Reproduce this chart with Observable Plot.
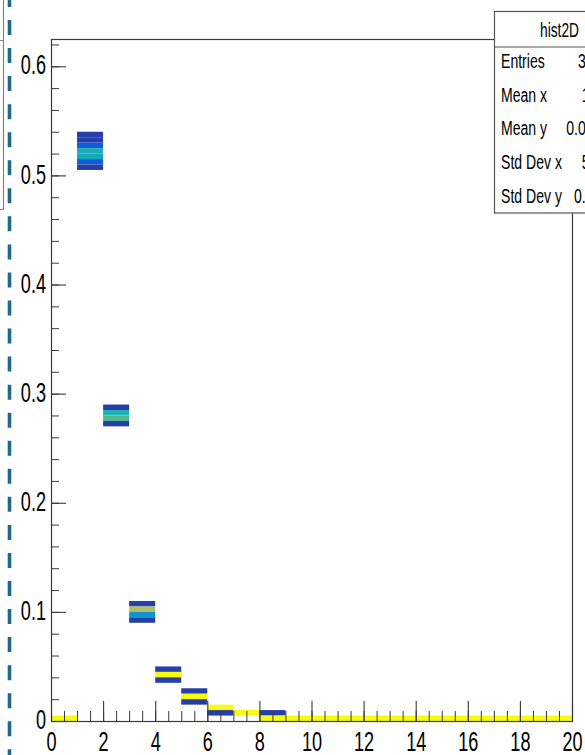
<!DOCTYPE html>
<html>
<head>
<meta charset="utf-8">
<script src="https://cdn.jsdelivr.net/npm/d3@7"></script>
<script src="https://cdn.jsdelivr.net/npm/@observablehq/plot@0.6"></script>
<style>
  html, body { margin: 0; padding: 0; background: #fff; }
  #chart { width: 585px; height: 755px; overflow: hidden; }
</style>
</head>
<body>
<div id="chart"></div>
<script>
// hist2D occupied cells: lower bin edges and relative cell content (0..1 of max)
const cellX = [0,
  1, 1, 1, 1, 1, 1, 1,
  2, 2, 2, 2,
  3, 3, 3, 3,
  4, 4, 4,
  5, 5, 5,
  6, 6,
  7,
  8, 8,
  9, 10, 11, 12, 13, 14, 15, 16, 17, 18, 19];
const cellY = [0,
  0.535, 0.53, 0.525, 0.52, 0.515, 0.51, 0.505,
  0.285, 0.28, 0.275, 0.27,
  0.105, 0.10, 0.095, 0.09,
  0.045, 0.04, 0.035,
  0.025, 0.02, 0.015,
  0.01, 0.005,
  0.005,
  0.005, 0,
  0, 0, 0, 0, 0, 0, 0, 0, 0, 0, 0];
const cellZ = [1,
  0.05, 0.05, 0.13, 0.44, 0.41, 0.13, 0.05,
  0.05, 0.45, 0.55, 0.05,
  0.05, 0.70, 0.32, 0.05,
  0.05, 1, 0.05,
  0.05, 1, 0.05,
  1, 0.05,
  1,
  0.05, 1,
  1, 1, 1, 1, 1, 1, 1, 1, 1, 1, 1];
const binWidthX = 1;
const binWidthY = 0.005;

// axis ranges and labels
const xDomain = [0, 20];
const yDomain = [0, 0.625];
const xMajor = [0, 2, 4, 6, 8, 10, 12, 14, 16, 18, 20];
const xLabels = ["0", "2", "4", "6", "8", "10", "12", "14", "16", "18", "20"];
const yMajor = [0, 0.1, 0.2, 0.3, 0.4, 0.5, 0.6];
const yLabels = ["0", "0.1", "0.2", "0.3", "0.4", "0.5", "0.6"];
const xMinor = d3.range(0, 20.001, 0.5);
const yMinor = d3.range(0, 0.6251, 0.02);

// statistics box
const statTitle = "hist2D";
const statNames = ["Entries", "Mean x", "Mean y", "Std Dev x", "Std Dev y"];
const statValues = ["30000", "10.01", "0.04937", "5.766", "0.1245"];

// "bird" colour palette stops
const birdColors = ["#352a87", "#0f5cdd", "#1481d6", "#06a4ca", "#2eb7a4",
                    "#87bf77", "#d1bb59", "#fec832", "#f9fb0e"];

const cells = cellX.map((x, i) => ({x, y: cellY[i], z: cellZ[i]}));

const W = 585, H = 755;
const mL = 51, mR = 13, mT = 39, mB = 34;
const frameW = W - mL - mR, frameH = H - mT - mB;
const ink = "#3a3a3a";
const squeeze = 0.67;

const plot = Plot.plot({
  width: W,
  height: H,
  marginLeft: mL, marginRight: mR, marginTop: mT, marginBottom: mB,
  style: {fontFamily: "'Liberation Sans', Arial, sans-serif", background: "white", color: "black"},
  x: {domain: xDomain, axis: null},
  y: {domain: yDomain, axis: null},
  color: {type: "linear", domain: [0, 1], interpolate: d3.piecewise(d3.interpolateRgb, birdColors)},
  marks: [
    Plot.rect(cells, {
      x1: "x", x2: d => d.x + binWidthX,
      y1: "y", y2: d => d.y + binWidthY,
      fill: "z"
    }),
    Plot.ruleX(xMinor, {x: d => d, insetTop: frameH - 10, stroke: ink, strokeWidth: 1}),
    Plot.ruleX(xMajor, {x: d => d, insetTop: frameH - 20, stroke: ink, strokeWidth: 1.1}),
    Plot.ruleY(yMinor, {y: d => d, insetRight: frameW - 8, stroke: ink, strokeWidth: 1}),
    Plot.ruleY(yMajor, {y: d => d, insetRight: frameW - 15, stroke: ink, strokeWidth: 1.1}),
    Plot.frame({stroke: ink, strokeWidth: 1.2}),
    Plot.text(xMajor, {
      x: d => d, text: (d, i) => xLabels[i], frameAnchor: "bottom",
      lineAnchor: "bottom", dy: 29, fontSize: 27, fill: "black"
    }),
    Plot.text(yMajor, {
      y: d => d, text: (d, i) => yLabels[i], frameAnchor: "left",
      textAnchor: "end", lineAnchor: "middle", dx: -5.5, dy: -1, fontSize: 27, fill: "black"
    })
  ]
});

// narrow the tick labels horizontally around their anchor points
plot.querySelectorAll("text").forEach(t => {
  const tr = t.getAttribute("transform");
  if (tr) {
    t.setAttribute("transform", tr + ` scale(${squeeze},1)`);
  } else {
    const x = +t.getAttribute("x") || 0, y = +t.getAttribute("y") || 0;
    t.removeAttribute("x"); t.removeAttribute("y");
    t.setAttribute("transform", `translate(${x},${y}) scale(${squeeze},1)`);
  }
});

const svg = d3.select(plot);

// neighbouring pad edge and dashed separator on the left
const side = svg.append("g");
side.append("path")
  .attr("d", "M0,40.5H3.5M3.5,0V209.5M0,209.5H3.5")
  .attr("fill", "none").attr("stroke", "#808080").attr("stroke-width", 1.2);
side.append("line")
  .attr("x1", 9.5).attr("x2", 9.5).attr("y1", -8.05).attr("y2", H + 30)
  .attr("stroke", "#1d6b8c").attr("stroke-width", 3.6)
  .attr("stroke-dasharray", "15 13.05");

// statistics box
const box = svg.append("g")
  .attr("font-family", "'Liberation Sans', Arial, sans-serif")
  .attr("fill", "black");
box.append("rect")
  .attr("x", 494.5).attr("y", 11.5).attr("width", 140).attr("height", 201.5)
  .attr("fill", "white").attr("stroke", "#555").attr("stroke-width", 1.2);
box.append("line")
  .attr("x1", 494.5).attr("x2", 640).attr("y1", 47).attr("y2", 47)
  .attr("stroke", "#555").attr("stroke-width", 1.2);
box.append("text")
  .attr("transform", `translate(559.5,37) scale(${squeeze},1)`)
  .attr("text-anchor", "middle").attr("font-size", 20.5)
  .text(statTitle);
const rowBase = [67.5, 101.5, 135, 169, 203];
statNames.forEach((name, i) => {
  box.append("text")
    .attr("transform", `translate(501,${rowBase[i]}) scale(${squeeze},1)`)
    .attr("text-anchor", "start").attr("font-size", 21)
    .text(name);
  box.append("text")
    .attr("transform", `translate(617,${rowBase[i]}) scale(${squeeze},1)`)
    .attr("text-anchor", "end").attr("font-size", 21)
    .text(statValues[i]);
});

document.getElementById("chart").appendChild(plot);
</script>
</body>
</html>
